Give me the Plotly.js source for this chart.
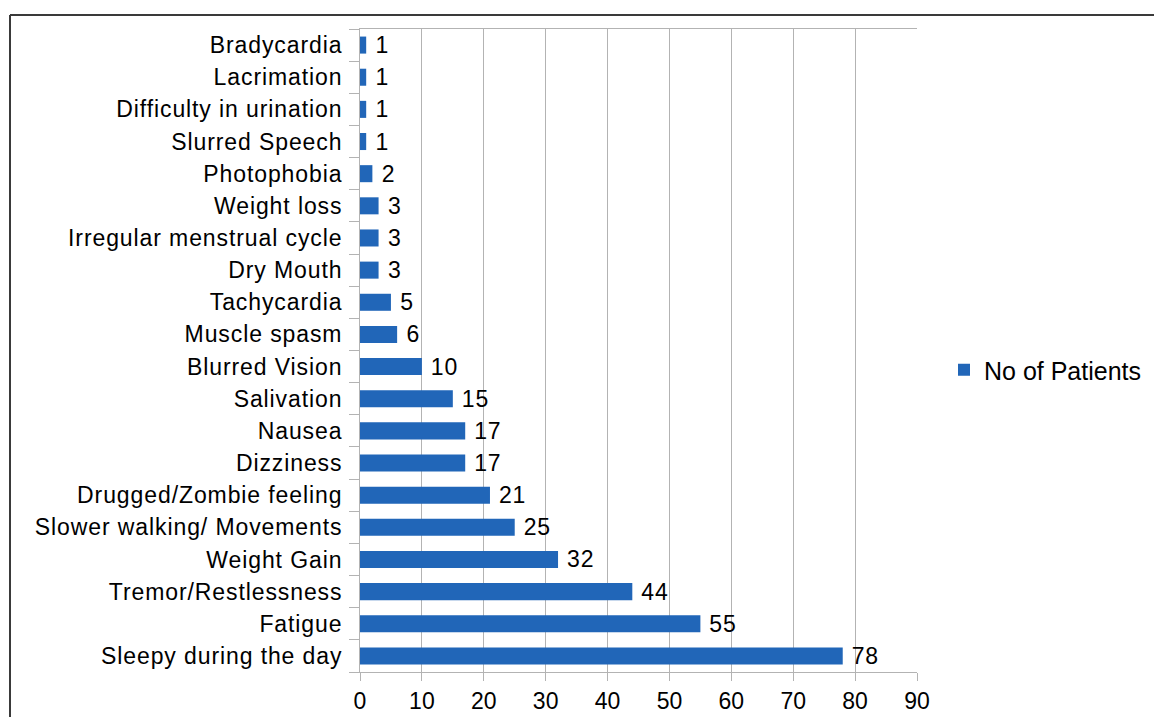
<!DOCTYPE html>
<html>
<head>
<meta charset="utf-8">
<script src="https://cdn.plot.ly/plotly-3.0.1.min.js"></script>
<style>
html,body{margin:0;padding:0;background:#fff;}
#chart{width:1154px;height:717px;}
#chart .ytick text, #chart .bartext { letter-spacing: 0.9px; }
</style>
</head>
<body>
<div id="chart"></div>
<script>
const symptoms = [
  "Sleepy during the day",
  "Fatigue",
  "Tremor/Restlessness",
  "Weight Gain",
  "Slower walking/ Movements",
  "Drugged/Zombie feeling",
  "Dizziness",
  "Nausea",
  "Salivation",
  "Blurred Vision",
  "Muscle spasm",
  "Tachycardia",
  "Dry Mouth",
  "Irregular menstrual cycle",
  "Weight loss",
  "Photophobia",
  "Slurred Speech",
  "Difficulty in urination",
  "Lacrimation",
  "Bradycardia"
];
const patients = [78, 55, 44, 32, 25, 21, 17, 17, 15, 10, 6, 5, 3, 3, 3, 2, 1, 1, 1, 1];
const seriesName = "No of Patients";
const xTicks = [0, 10, 20, 30, 40, 50, 60, 70, 80, 90];

const W = 1154, H = 717;
const m = {l: 360, r: 237, t: 29, b: 45, autoexpand: false};
const pw = W - m.l - m.r, ph = H - m.t - m.b;
const px = v => (v - m.l) / pw;
const py = v => 1 - (v - m.t) / ph;
const FONT = "Liberation Sans, Arial, sans-serif";

const trace = {
  type: "bar",
  orientation: "h",
  name: seriesName,
  y: symptoms,
  x: patients,
  texttemplate: "\u00a0%{x}",
  textposition: "outside",
  constraintext: "none",
  cliponaxis: false,
  textfont: {family: FONT, size: 23, color: "#000"},
  marker: {color: "#2166b8"},
  width: 0.53,
  showlegend: true
};

const layout = {
  width: W, height: H,
  margin: m,
  paper_bgcolor: "#fff",
  plot_bgcolor: "#fff",
  font: {family: FONT, size: 23, color: "#000"},
  xaxis: {
    range: [0, 90],
    tickvals: xTicks,
    ticktext: xTicks.map(String),
    showgrid: true,
    gridcolor: "#b3b3b3",
    gridwidth: 1,
    zeroline: false,
    showline: true,
    linecolor: "#b3b3b3",
    mirror: true,
    ticks: "outside",
    ticklen: 8,
    tickcolor: "#b3b3b3",
    tickfont: {family: FONT, size: 23, color: "#000"},
    fixedrange: true
  },
  yaxis: {
    type: "category",
    categoryorder: "array",
    categoryarray: symptoms,
    showgrid: false,
    zeroline: false,
    showline: true,
    linecolor: "#b3b3b3",
    ticks: "outside",
    tickson: "boundaries",
    ticklen: 10,
    tickcolor: "#b3b3b3",
    tickfont: {family: FONT, size: 23, color: "#000"},
    ticklabelstandoff: 12,
    fixedrange: true
  },
  legend: {
    x: px(944), y: py(370), xanchor: "left", yanchor: "middle",
    font: {family: FONT, size: 25, color: "#000"},
    bgcolor: "rgba(0,0,0,0)",
    itemwidth: 30
  },
  shapes: [
    {type: "line", xref: "paper", yref: "paper", x0: px(10), x1: px(1160), y0: py(15), y1: py(15), line: {color: "#3a3a3a", width: 2}},
    {type: "line", xref: "paper", yref: "paper", x0: px(10), x1: px(10), y0: py(15), y1: py(720), line: {color: "#3a3a3a", width: 2}}
  ]
};

Plotly.newPlot("chart", [trace], layout, {displayModeBar: false, staticPlot: true});
</script>
</body>
</html>
